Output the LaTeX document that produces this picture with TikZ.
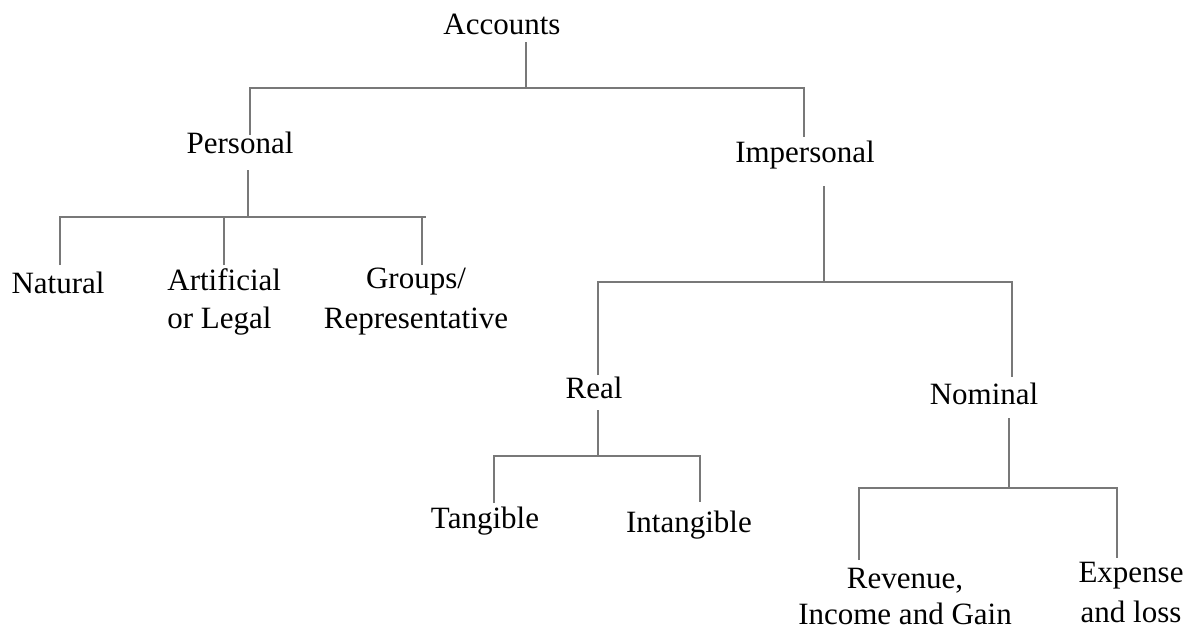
\documentclass[tikz,border=0pt]{standalone}
\usepackage{fontspec}
\setmainfont{Liberation Serif}
\usepackage{xcolor}
\definecolor{linegray}{RGB}{120,120,120}

\begin{document}
\begin{tikzpicture}[
  x=0.5pt, y=-0.5pt,
  label/.style={inner sep=0pt, anchor=base, align=center,
                font=\fontsize{15.5}{19}\selectfont},
  link/.style={draw=linegray, line width=0.9pt}
]
  \useasboundingbox[fill=white] (0,0) rectangle (1188,628);

  % labels (multi-line ones sit on the baseline of their last line)
  \node[label] (acc) at (502,34) {Accounts};
  \node[label] (pers) at (240,153) {Personal};
  \node[label] (imp) at (805,162) {Impersonal};
  \node[label] (nat) at (58,293) {Natural};
  \node[label, anchor=base west, align=left] (art) at (167,328) {Artificial\\or Legal};
  \node[label, font=\fontsize{15.5}{20}\selectfont] (grp) at (416,328) {Groups/\\Representative};
  \node[label] (real) at (594,398) {Real};
  \node[label] (nom) at (984,404) {Nominal};
  \node[label] (tang) at (485,528) {Tangible};
  \node[label] (intang) at (689,532) {Intangible};
  \node[label, font=\fontsize{15.5}{18}\selectfont] (rev) at (905,624) {Revenue,\\Income and Gain};
  \node[label, font=\fontsize{15.5}{20}\selectfont] (exp) at (1131,622) {Expense\\and loss};

  % Accounts -> Personal / Impersonal
  \coordinate (acc-out) at (526,42);
  \coordinate (acc-bar) at (526,88);
  \coordinate (pers-in) at (250,135);
  \coordinate (imp-bar) at (804,88);
  \coordinate (imp-in) at (804,137);
  \draw[link] (acc-out) -- (acc-bar);
  \draw[link] (pers-in) |- (imp-bar) -- (imp-in);

  % Personal -> Natural / Artificial / Groups
  \coordinate (pers-out) at (248,170);
  \coordinate (pers-bar) at (248,217);
  \coordinate (nat-in) at (60,265);
  \coordinate (art-in) at (224,265);
  \coordinate (grp-bar) at (426,217);
  \coordinate (grp-in) at (422,265);
  \draw[link] (pers-out) -- (pers-bar);
  \draw[link] (nat-in) |- (grp-bar);
  \draw[link] (art-in) -- (art-in |- pers-bar);
  \draw[link] (grp-in) -- (grp-in |- pers-bar);

  % Impersonal -> Real / Nominal
  \coordinate (imp-out) at (824,186);
  \coordinate (imp-bar2) at (824,282);
  \coordinate (real-in) at (598,375);
  \coordinate (nom-bar) at (1012,282);
  \coordinate (nom-in) at (1012,377);
  \draw[link] (imp-out) -- (imp-bar2);
  \draw[link] (real-in) |- (nom-bar) -- (nom-in);

  % Real -> Tangible / Intangible
  \coordinate (real-out) at (598,410);
  \coordinate (real-bar) at (598,456);
  \coordinate (tang-in) at (494,503);
  \coordinate (intang-bar) at (700,456);
  \coordinate (intang-in) at (700,502);
  \draw[link] (real-out) -- (real-bar);
  \draw[link] (tang-in) |- (intang-bar) -- (intang-in);

  % Nominal -> Revenue / Expense
  \coordinate (nom-out) at (1009,418);
  \coordinate (nom-bar2) at (1009,488);
  \coordinate (rev-in) at (859,560);
  \coordinate (exp-bar) at (1117,488);
  \coordinate (exp-in) at (1117,558);
  \draw[link] (nom-out) -- (nom-bar2);
  \draw[link] (rev-in) |- (exp-bar) -- (exp-in);
\end{tikzpicture}
\end{document}
